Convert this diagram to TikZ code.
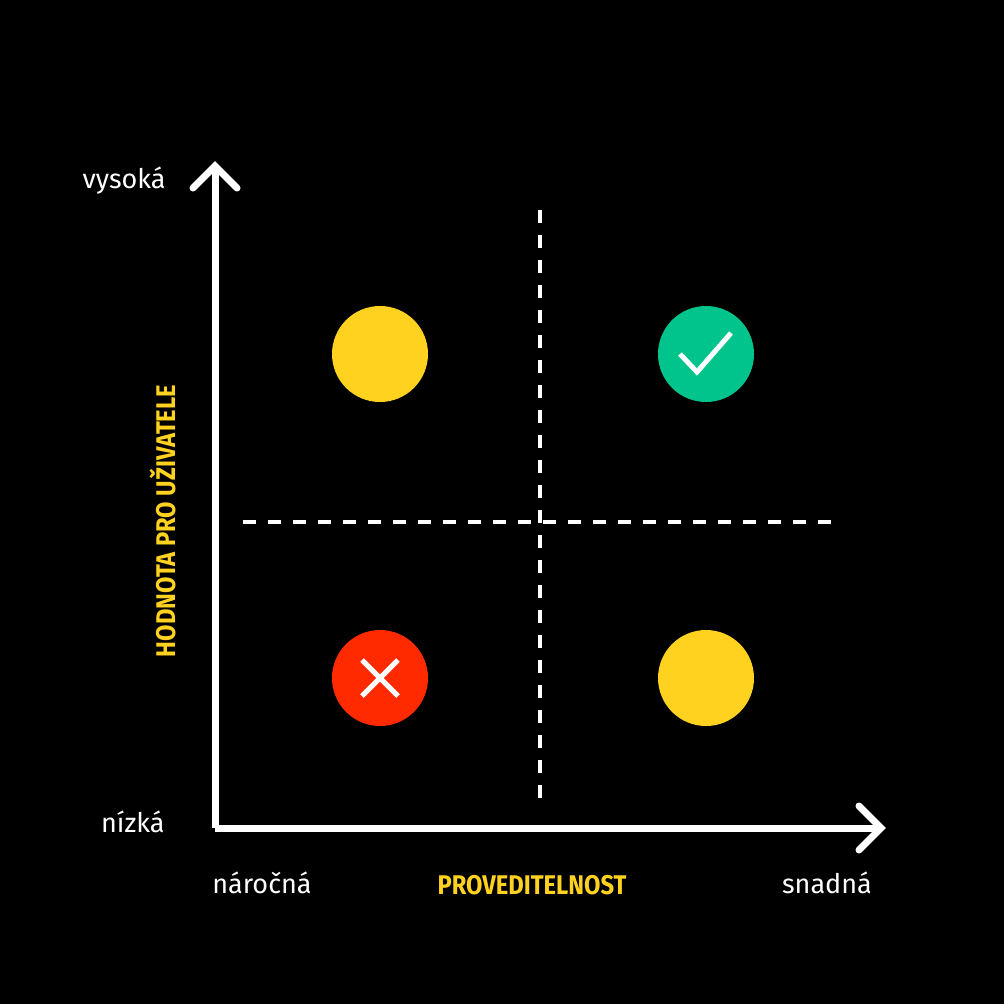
\documentclass[tikz,border=0pt]{standalone}
\usepackage{fontspec}
\setmainfont{Fira Sans}
\definecolor{yel}{HTML}{FFD21F}
\definecolor{grn}{HTML}{00C48C}
\definecolor{rd}{HTML}{FF2A00}
\begin{document}
\begin{tikzpicture}[x=1pt,y=-1pt,
  ax/.style={white,line width=7pt},
  dsh/.style={white,line width=3.5pt,dash pattern=on 13pt off 12pt},
  dot/.style={circle,minimum size=96pt,inner sep=0pt},
  lbl/.style={white,font=\fontsize{27}{27}\selectfont},
  ttl/.style={yel,font=\fontsize{27}{27}\selectfont\addfontfeatures{FakeStretch=0.88}\bfseries}]
\fill[black] (0,0) rectangle (1004,1004);
\useasboundingbox (0,0) rectangle (1004,1004);
\coordinate (o) at (215,828);
\coordinate (yt) at (215,166);
\coordinate (xt) at (881,828);
\draw[ax] (o) -- (yt);
\draw[ax] (o) -- (xt);
\draw[ax,line cap=round] (193,188) -- (yt) -- (237,188);
\draw[ax,line cap=round] (859,806) -- (xt) -- (859,850);
\draw[dsh] (540,210) -- (540,802);
\draw[dsh] (243,522) -- (838,522);
\node[dot,fill=yel] (a) at (380,354) {};
\node[dot,fill=grn] (b) at (706,354) {};
\node[dot,fill=rd] (c) at (380,678) {};
\node[dot,fill=yel] (d) at (706,678) {};
\draw[white,line width=5pt] (680,354) -- (697,372) -- (731,333);
\draw[white,line width=5pt] (362,660) -- (398,696) (398,660) -- (362,696);
\node[lbl,anchor=east] (hi) at (169,181) {vysoká};
\node[lbl,anchor=east] (lo) at (168,822) {nízká};
\node[lbl] (l1) at (262,883) {náročná};
\node[lbl] (l2) at (827,883) {snadná};
\node[ttl] (tx) at (532,885) {PROVEDITELNOST};
\node[ttl,rotate=90] (ty) at (163,521) {HODNOTA PRO UŽIVATELE};
\end{tikzpicture}
\end{document}
